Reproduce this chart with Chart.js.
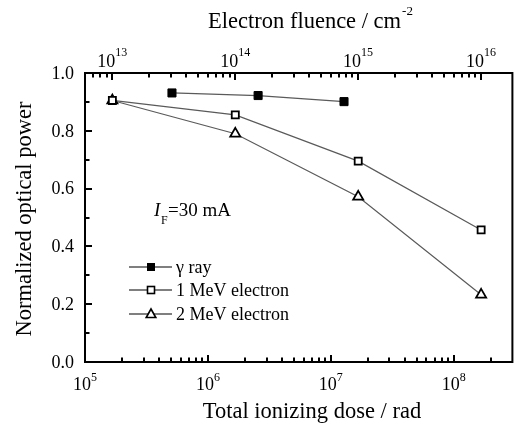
<!DOCTYPE html>
<html>
<head>
<meta charset="utf-8">
<script src="https://cdn.jsdelivr.net/npm/chart.js@4.4.0/dist/chart.umd.min.js"></script>
<style>
  html, body { margin: 0; padding: 0; background: #fff; }
</style>
</head>
<body>
<canvas id="chart" width="520" height="428"></canvas>
<script>
// data
const gammaDose = [5.1e5, 2.56e6, 1.28e7];
const gammaPower = [0.931, 0.922, 0.901];
const electronDose = [1.67e5, 1.67e6, 1.67e7, 1.67e8];
const mev1Power = [0.905, 0.855, 0.695, 0.457];
const mev2Power = [0.905, 0.79, 0.572, 0.233];
const seriesNames = ["γ ray", "1 MeV electron", "2 MeV electron"];
const doseRange = [1e5, 3e8];
const fluenceRange = [6e12, 1.8e16];
const powerRange = [0, 1];

const SERIF = '"Liberation Serif", "Times New Roman", serif';
const LINE = "#5a5a5a";

function pts(xs, ys) {
    return xs.map((x, i) => ({ x: x, y: ys[i] }));
}

// 1..9 x 10^n values that fall inside a log axis
function logTickValues(scale) {
    const out = [];
    const lo = Math.floor(Math.log10(scale.min));
    const hi = Math.ceil(Math.log10(scale.max));
    for (let e = lo; e <= hi; e++) {
        for (let k = 1; k <= 9; k++) {
            const v = k * Math.pow(10, e);
            if (v >= scale.min * 0.999 && v <= scale.max * 1.001) out.push({ v: v, major: k === 1, exp: e });
        }
    }
    return out;
}

// "10" with a raised exponent, centred on cx
function drawPow(ctx, exp, cx, baseY, supY) {
    ctx.font = "18px " + SERIF;
    const w1 = ctx.measureText("10").width;
    ctx.font = "12px " + SERIF;
    const w2 = ctx.measureText(exp).width;
    const x0 = cx - (w1 + w2) / 2;
    ctx.textAlign = "left";
    ctx.textBaseline = "alphabetic";
    ctx.font = "18px " + SERIF;
    ctx.fillText("10", x0, baseY);
    ctx.font = "12px " + SERIF;
    ctx.fillText(exp, x0 + w1, supY);
}

function seg(ctx, x1, y1, x2, y2) {
    ctx.beginPath();
    ctx.moveTo(x1, y1);
    ctx.lineTo(x2, y2);
    ctx.stroke();
}

function drawMarker(ctx, style, x, y) {
    ctx.save();
    ctx.lineWidth = 1.6;
    ctx.strokeStyle = "#000";
    if (style === "filled") {
        ctx.fillStyle = "#000";
        ctx.fillRect(x - 4, y - 4, 8, 8);
    } else if (style === "open") {
        ctx.fillStyle = "#fff";
        ctx.fillRect(x - 3.5, y - 3.5, 7, 7);
        ctx.strokeRect(x - 3.5, y - 3.5, 7, 7);
    } else {
        ctx.fillStyle = "#fff";
        ctx.beginPath();
        ctx.moveTo(x, y - 5);
        ctx.lineTo(x + 4.8, y + 3.5);
        ctx.lineTo(x - 4.8, y + 3.5);
        ctx.closePath();
        ctx.fill();
        ctx.stroke();
    }
    ctx.restore();
}

const decor = {
    id: "decor",
    afterDraw(chart) {
        const ctx = chart.ctx;
        const a = chart.chartArea;
        const xs = chart.scales.x, xt = chart.scales.x2, ys = chart.scales.y;
        ctx.save();
        ctx.strokeStyle = "#000";
        ctx.fillStyle = "#000";

        // frame
        ctx.lineWidth = 2;
        ctx.strokeRect(a.left, a.top, a.right - a.left, a.bottom - a.top);

        // inward ticks
        ctx.lineWidth = 2;
        logTickValues(xs).forEach((t) => {
            const px = Math.round(xs.getPixelForValue(t.v));
            if (px <= a.left + 2 || px >= a.right - 2) return;
            seg(ctx, px, a.bottom, px, a.bottom - (t.major ? 7 : 4.5));
        });
        logTickValues(xt).forEach((t) => {
            const px = Math.round(xt.getPixelForValue(t.v));
            if (px <= a.left + 2 || px >= a.right - 2) return;
            seg(ctx, px, a.top, px, a.top + (t.major ? 7 : 4.5));
        });
        for (let i = 1; i < 10; i++) {
            const py = Math.round(ys.getPixelForValue(i / 10));
            seg(ctx, a.left, py, a.left + (i % 2 === 0 ? 7 : 4.5), py);
        }

        // tick labels
        logTickValues(xs).forEach((t) => {
            if (t.major) drawPow(ctx, String(t.exp), xs.getPixelForValue(t.v), 390, 381);
        });
        logTickValues(xt).forEach((t) => {
            if (t.major) drawPow(ctx, String(t.exp), xt.getPixelForValue(t.v), 67, 56);
        });
        ctx.font = "18px " + SERIF;
        ctx.textAlign = "right";
        ctx.textBaseline = "middle";
        for (let i = 0; i <= 10; i += 2) {
            ctx.fillText((i / 10).toFixed(1), a.left - 11, ys.getPixelForValue(i / 10) + 1);
        }

        // axis titles
        ctx.font = "22.5px " + SERIF;
        ctx.textAlign = "center";
        ctx.textBaseline = "alphabetic";
        ctx.fillText("Total ionizing dose / rad", 312, 418);

        const tt = "Electron fluence / cm";
        const w1 = ctx.measureText(tt).width;
        ctx.font = "13px " + SERIF;
        const w2 = ctx.measureText("-2").width;
        const tx = 310 - (w1 + w2) / 2;
        ctx.textAlign = "left";
        ctx.font = "22.5px " + SERIF;
        ctx.fillText(tt, tx, 28);
        ctx.font = "13px " + SERIF;
        ctx.fillText("-2", tx + w1 + 1, 15);

        ctx.save();
        ctx.translate(31, 219);
        ctx.rotate(-Math.PI / 2);
        ctx.font = "22.5px " + SERIF;
        ctx.textAlign = "center";
        ctx.fillText("Normalized optical power", 0, 0);
        ctx.restore();

        // I_F annotation
        ctx.textAlign = "left";
        ctx.font = "italic 19px " + SERIF;
        ctx.fillText("I", 154, 216);
        ctx.font = "12px " + SERIF;
        ctx.fillText("F", 161, 224);
        ctx.font = "19px " + SERIF;
        ctx.fillText("=30 mA", 168, 216);

        // legend
        const styles = ["filled", "open", "tri"];
        const rows = [267, 290, 314];
        ctx.font = "18px " + SERIF;
        ctx.textBaseline = "middle";
        seriesNames.forEach((name, i) => {
            ctx.strokeStyle = "#000";
            ctx.lineWidth = 1.2;
            seg(ctx, 129, rows[i], 172, rows[i]);
            drawMarker(ctx, styles[i], 151, rows[i]);
            ctx.fillStyle = "#000";
            ctx.fillText(name, 176, rows[i] + 1);
        });
        ctx.restore();
    }
};

new Chart(document.getElementById("chart"), {
    type: "line",
    data: {
        datasets: [
            {
                label: seriesNames[0],
                data: pts(gammaDose, gammaPower),
                borderColor: LINE,
                borderWidth: 1.2,
                pointStyle: "rect",
                pointRadius: 5.7,
                pointBackgroundColor: "#000",
                pointBorderColor: "#000",
                pointBorderWidth: 1
            },
            {
                label: seriesNames[1],
                data: pts(electronDose, mev1Power),
                borderColor: LINE,
                borderWidth: 1.2,
                pointStyle: "rect",
                pointRadius: 5,
                pointBackgroundColor: "#fff",
                pointBorderColor: "#000",
                pointBorderWidth: 1.8
            },
            {
                label: seriesNames[2],
                data: pts(electronDose, mev2Power),
                borderColor: LINE,
                borderWidth: 1.2,
                pointStyle: "triangle",
                pointRadius: 5.8,
                pointBackgroundColor: "#fff",
                pointBorderColor: "#000",
                pointBorderWidth: 1.8
            }
        ]
    },
    options: {
        responsive: false,
        animation: false,
        devicePixelRatio: 1,
        layout: { padding: { left: 0, right: 2, top: 0, bottom: 0 } },
        plugins: { legend: { display: false }, tooltip: { enabled: false } },
        scales: {
            x: {
                type: "logarithmic",
                position: "bottom",
                min: doseRange[0],
                max: doseRange[1],
                grid: { display: false },
                border: { display: false },
                ticks: { display: false },
                afterFit: (s) => { s.height = 66; }
            },
            x2: {
                type: "logarithmic",
                position: "top",
                min: fluenceRange[0],
                max: fluenceRange[1],
                grid: { display: false },
                border: { display: false },
                ticks: { display: false },
                afterFit: (s) => { s.height = 73; }
            },
            y: {
                type: "linear",
                min: powerRange[0],
                max: powerRange[1],
                grid: { display: false },
                border: { display: false },
                ticks: { display: false, stepSize: 0.1 },
                afterFit: (s) => { s.width = 85; }
            }
        }
    },
    plugins: [decor]
});
</script>
</body>
</html>
